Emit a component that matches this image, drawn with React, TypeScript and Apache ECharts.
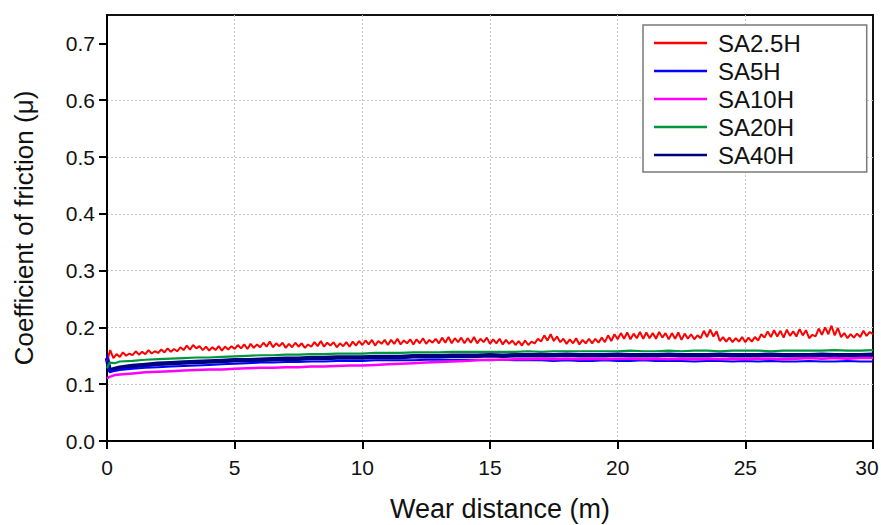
import React, { useEffect, useRef } from "react";
import * as echarts from "echarts";

const xTicks = [0, 5, 10, 15, 20, 25, 30];
const yTicks = [0, 0.1, 0.2, 0.3, 0.4, 0.5, 0.6, 0.7];
const seriesNames = ["SA2.5H", "SA5H", "SA10H", "SA20H", "SA40H"];
const seriesColors = ["#ff0000", "#0000ff", "#ff00ff", "#00963c", "#000080"];
const seriesWidths = [2, 2, 2.5, 2.2, 4.5];

// SA2.5H sampled every 0.125 m (one row = 1 m)
const redStep = 0.125;
const sa25H = [
  0.140, 0.160, 0.146, 0.153, 0.148, 0.156, 0.150, 0.154,
  0.151, 0.158, 0.152, 0.157, 0.153, 0.160, 0.154, 0.158,
  0.155, 0.161, 0.156, 0.163, 0.157, 0.162, 0.158, 0.165,
  0.160, 0.168, 0.161, 0.169, 0.163, 0.167, 0.160, 0.166,
  0.159, 0.165, 0.160, 0.167, 0.159, 0.166, 0.161, 0.167,
  0.162, 0.169, 0.163, 0.170, 0.162, 0.171, 0.164, 0.170,
  0.165, 0.173, 0.166, 0.175, 0.165, 0.172, 0.167, 0.173,
  0.164, 0.171, 0.165, 0.173, 0.166, 0.172, 0.164, 0.170,
  0.166, 0.174, 0.167, 0.176, 0.166, 0.173, 0.168, 0.174,
  0.165, 0.172, 0.167, 0.174, 0.166, 0.175, 0.168, 0.176,
  0.169, 0.177, 0.170, 0.178, 0.168, 0.176, 0.171, 0.178,
  0.169, 0.178, 0.171, 0.180, 0.170, 0.177, 0.172, 0.179,
  0.170, 0.179, 0.172, 0.181, 0.171, 0.178, 0.173, 0.180,
  0.172, 0.182, 0.173, 0.183, 0.172, 0.181, 0.174, 0.182,
  0.172, 0.181, 0.173, 0.183, 0.172, 0.180, 0.174, 0.182,
  0.171, 0.179, 0.172, 0.180, 0.170, 0.178, 0.171, 0.177,
  0.169, 0.176, 0.168, 0.177, 0.169, 0.175, 0.172, 0.180,
  0.175, 0.186, 0.177, 0.188, 0.176, 0.184, 0.174, 0.180,
  0.171, 0.179, 0.172, 0.181, 0.170, 0.178, 0.172, 0.180,
  0.172, 0.180, 0.173, 0.182, 0.174, 0.186, 0.176, 0.188,
  0.179, 0.190, 0.180, 0.191, 0.179, 0.189, 0.181, 0.192,
  0.180, 0.191, 0.181, 0.190, 0.180, 0.192, 0.182, 0.190,
  0.179, 0.190, 0.180, 0.191, 0.178, 0.189, 0.180, 0.188,
  0.179, 0.186, 0.181, 0.194, 0.183, 0.196, 0.184, 0.193,
  0.176, 0.183, 0.175, 0.182, 0.174, 0.181, 0.175, 0.183,
  0.174, 0.182, 0.175, 0.183, 0.177, 0.188, 0.182, 0.193,
  0.183, 0.195, 0.184, 0.194, 0.182, 0.196, 0.185, 0.193,
  0.184, 0.197, 0.186, 0.195, 0.181, 0.187, 0.184, 0.198,
  0.187, 0.200, 0.188, 0.203, 0.186, 0.199, 0.183, 0.190,
  0.181, 0.188, 0.182, 0.189, 0.183, 0.194, 0.185, 0.192,
  0.188,
];

const smoothDist = [
  0, 0.1, 0.3, 0.5, 1, 1.5, 2, 2.5, 3, 3.5,
  4, 4.5, 5, 5.5, 6, 6.5, 7, 7.5, 8, 8.5,
  9, 9.5, 10, 10.5, 11, 11.5, 12, 12.5, 13, 13.5,
  14, 14.5, 15, 15.5, 16, 16.5, 17, 17.5, 18, 18.5,
  19, 19.5, 20, 20.5, 21, 21.5, 22, 22.5, 23, 23.5,
  24, 24.5, 25, 25.5, 26, 26.5, 27, 27.5, 28, 28.5,
  29, 29.5, 30,
];

const sa5H = [
  0.152, 0.121, 0.123, 0.125, 0.127, 0.129, 0.130, 0.131, 0.132, 0.133,
  0.134, 0.135, 0.136, 0.137, 0.138, 0.138, 0.139, 0.139, 0.140, 0.140,
  0.141, 0.141, 0.141, 0.142, 0.142, 0.142, 0.142, 0.143, 0.143, 0.143,
  0.143, 0.143, 0.142, 0.143, 0.142, 0.142, 0.142, 0.141, 0.142, 0.141,
  0.141, 0.142, 0.141, 0.141, 0.142, 0.141, 0.141, 0.141, 0.140, 0.141,
  0.141, 0.140, 0.141, 0.140, 0.141, 0.140, 0.140, 0.141, 0.140, 0.140,
  0.141, 0.140, 0.140,
];

const sa10H = [
  0.110, 0.113, 0.116, 0.117, 0.119, 0.121, 0.122, 0.123, 0.124, 0.125,
  0.126, 0.126, 0.127, 0.128, 0.129, 0.129, 0.130, 0.130, 0.131, 0.131,
  0.132, 0.133, 0.133, 0.134, 0.135, 0.136, 0.137, 0.138, 0.139, 0.140,
  0.141, 0.142, 0.143, 0.143, 0.144, 0.144, 0.145, 0.144, 0.145, 0.144,
  0.145, 0.144, 0.145, 0.145, 0.144, 0.145, 0.144, 0.145, 0.144, 0.145,
  0.144, 0.145, 0.144, 0.145, 0.145, 0.144, 0.145, 0.146, 0.145, 0.146,
  0.145, 0.146, 0.146,
];

const sa20H = [
  0.128, 0.138, 0.137, 0.140, 0.141, 0.143, 0.144, 0.145, 0.146, 0.147,
  0.147, 0.148, 0.149, 0.150, 0.151, 0.151, 0.152, 0.152, 0.153, 0.153,
  0.154, 0.154, 0.154, 0.155, 0.155, 0.155, 0.156, 0.156, 0.156, 0.157,
  0.157, 0.157, 0.157, 0.157, 0.157, 0.158, 0.157, 0.158, 0.158, 0.158,
  0.158, 0.158, 0.158, 0.159, 0.158, 0.158, 0.159, 0.158, 0.159, 0.159,
  0.158, 0.159, 0.159, 0.159, 0.158, 0.159, 0.159, 0.159, 0.159, 0.160,
  0.159, 0.159, 0.160,
];

const sa40H = [
  0.146, 0.124, 0.127, 0.129, 0.132, 0.134, 0.136, 0.137, 0.138, 0.139,
  0.140, 0.141, 0.142, 0.142, 0.143, 0.144, 0.145, 0.145, 0.146, 0.146,
  0.147, 0.147, 0.147, 0.148, 0.148, 0.148, 0.149, 0.149, 0.149, 0.150,
  0.150, 0.150, 0.151, 0.150, 0.151, 0.151, 0.151, 0.151, 0.152, 0.151,
  0.151, 0.151, 0.152, 0.151, 0.151, 0.151, 0.152, 0.151, 0.151, 0.151,
  0.152, 0.151, 0.151, 0.151, 0.152, 0.151, 0.151, 0.151, 0.152, 0.151,
  0.151, 0.151, 0.152,
];

const FONT = "Arial, 'Liberation Sans', Helvetica, sans-serif";

export default function App() {
  const ref = useRef<HTMLDivElement>(null);
  useEffect(() => {
    if (!ref.current) return;
    const chart = echarts.init(ref.current, undefined, { renderer: "svg" });
    const redData = sa25H.map((v, i) => [i * redStep, v]);
    const smoothSets = [sa5H, sa10H, sa20H, sa40H].map((arr) =>
      arr.map((v, i) => [smoothDist[i], v])
    );
    const allData = [redData, ...smoothSets];
    const xMax = xTicks[xTicks.length - 1];
    const gridLine = {
      show: true,
      showMinLine: false,
      showMaxLine: false,
      lineStyle: { color: "#c4c4c4", width: 1, type: [2, 2] as any },
    };
    chart.setOption({
      animation: false,
      backgroundColor: "#ffffff",
      textStyle: { fontFamily: FONT },
      grid: {
        left: 107,
        right: 8,
        top: 15,
        bottom: 84,
        show: true,
        borderColor: "#111",
        borderWidth: 2,
        backgroundColor: "transparent",
        outerBoundsMode: "none",
        containLabel: false,
      },
      legend: {
        orient: "vertical",
        left: 643,
        top: 25,
        padding: [4, 66, 3, 11],
        itemGap: 0,
        itemWidth: 53,
        itemHeight: 2.5,
        icon: "rect",
        backgroundColor: "#ffffff",
        borderColor: "#7a7a7a",
        borderWidth: 1.5,
        borderRadius: 0,
        textStyle: { fontSize: 24, color: "#111", lineHeight: 28, fontFamily: FONT, padding: [0, 0, 0, 6] },
        data: seriesNames,
      },
      xAxis: {
        type: "value",
        min: 0,
        max: xMax,
        interval: 2.5,
        name: "Wear distance (m)",
        nameLocation: "middle",
        nameGap: 54,
        nameTextStyle: { fontSize: 27, color: "#111", fontFamily: FONT, padding: [0, 0, 0, 20] },
        axisLine: { show: true, onZero: false, lineStyle: { color: "#000", width: 2 } },
        axisTick: { show: true, customValues: xTicks, length: 8, lineStyle: { color: "#000", width: 2 } },
        axisLabel: {
          customValues: xTicks,
          fontSize: 21,
          color: "#111",
          margin: 16,
          fontFamily: FONT,
          formatter: (v: number) => (v === xMax ? `{last|${v}}` : `${v}`),
          rich: {
            last: { fontSize: 21, color: "#111", fontFamily: FONT, padding: [0, 12, 0, 0] },
          },
        },
        splitLine: gridLine,
      },
      yAxis: {
        type: "value",
        min: 0,
        max: 0.75,
        interval: 0.05,
        name: "Coefficient of friction (μ)",
        nameLocation: "middle",
        nameGap: 70,
        nameRotate: 90,
        nameTextStyle: { fontSize: 26, color: "#111", fontFamily: FONT },
        axisLine: { show: true, onZero: false, lineStyle: { color: "#000", width: 2 } },
        axisTick: { show: true, customValues: yTicks, length: 8, lineStyle: { color: "#000", width: 2 } },
        axisLabel: {
          customValues: yTicks,
          fontSize: 21,
          color: "#111",
          margin: 12,
          fontFamily: FONT,
          formatter: (v: number) => v.toFixed(1),
        },
        splitLine: gridLine,
      },
      series: seriesNames.map((name, k) => ({
        name,
        type: "line",
        data: allData[k],
        showSymbol: false,
        symbol: "none",
        color: seriesColors[k],
        lineStyle: { color: seriesColors[k], width: seriesWidths[k] },
        emphasis: { disabled: true },
        z: k === 4 ? 1 : 2,
      })),
    });
    return () => chart.dispose();
  }, []);
  return (
    <div
      ref={ref}
      style={{ position: "absolute", left: 0, top: 0, width: 881, height: 525, background: "#fff" }}
    />
  );
}
